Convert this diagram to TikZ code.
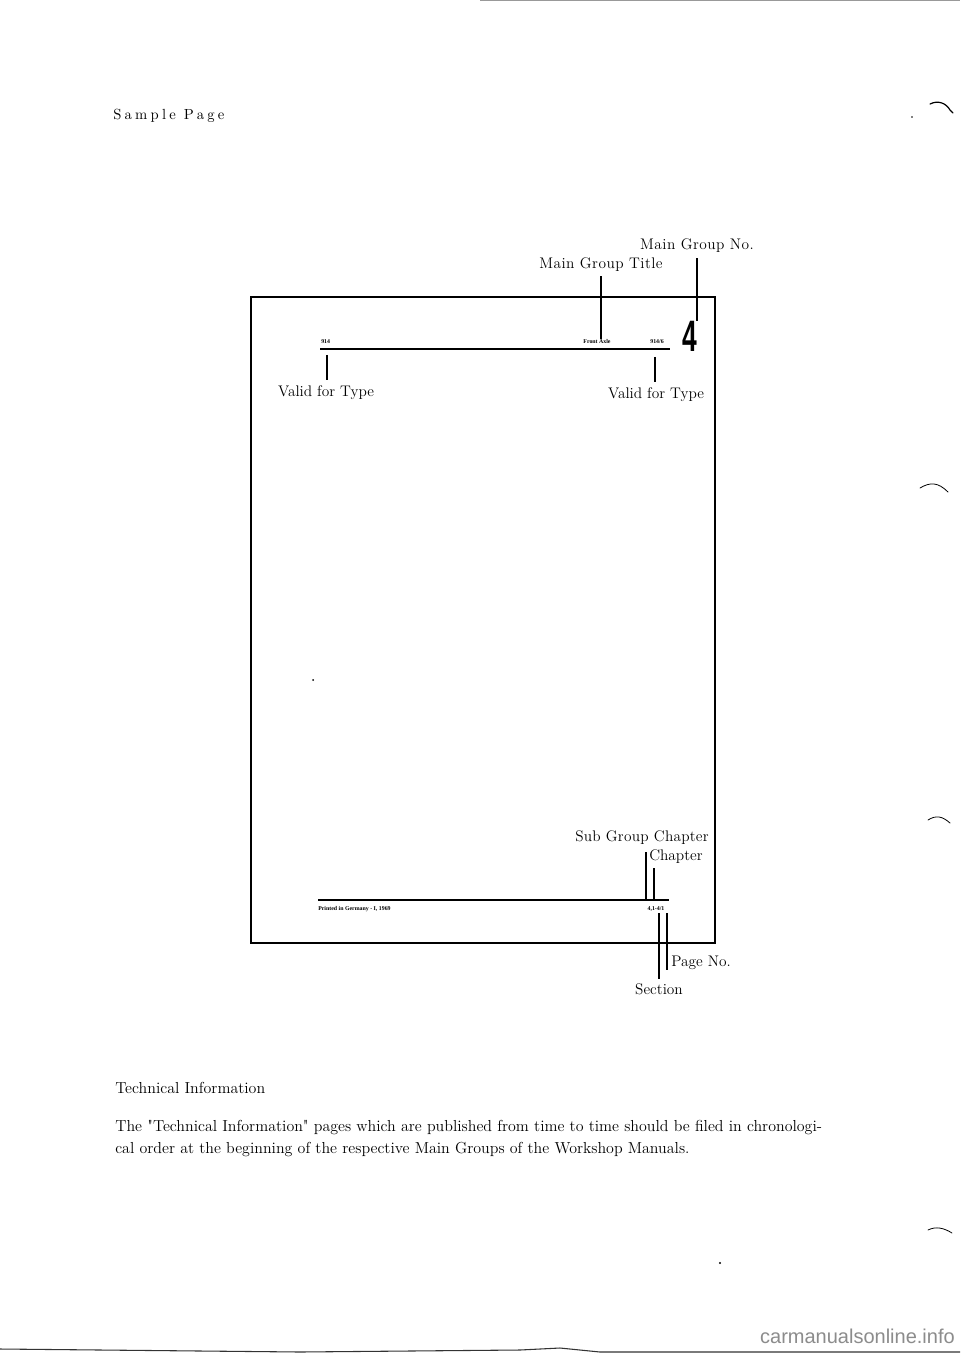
\documentclass[tikz,border=0pt]{standalone}
\usepackage{fontspec}
\setmainfont{Latin Modern Roman}
\newfontfamily\tinyfont{Liberation Serif}
\newfontfamily\numfont{Liberation Sans}
\newfontfamily\wmfont{Liberation Sans}
\begin{document}
\begin{tikzpicture}[x=0.75pt,y=-0.75pt,
  lbl/.style={inner sep=0pt,font=\fontsize{11.5}{12}\selectfont\addfontfeature{LetterSpace=3}},
  mlbl/.style={inner sep=0pt,font=\fontsize{11.5}{12}\selectfont},
  tiny/.style={inner sep=0pt,font=\tinyfont\bfseries\fontsize{4.4}{5}\selectfont},
  pointer/.style={line width=1.1pt},
  rule/.style={line width=1.3pt},
  body/.style={inner sep=0pt,anchor=west,font=\fontsize{11.95}{13}\selectfont},
  scan/.style={line width=0.9pt,line cap=round}]
\useasboundingbox (0,0) rectangle (960,1358);
\fill[white] (0,0) rectangle (960,1358);

% title
\node[inner sep=0pt,anchor=west,font=\fontsize{11}{12}\selectfont\addfontfeature{LetterSpace=22}] (sp) at (113,116) {Sample Page};

% page frame
\draw[line width=1.6pt] (251,297) rectangle (715,943);

% header
\draw[rule] (320,349) coordinate (hl) -- (670,349) coordinate (hr);
\node[tiny,anchor=south west] (t914) at (321,344) {914};
\node[tiny,anchor=south] (fa) at (597,344) {Front Axle};
\node[tiny,anchor=south] (t9146) at (657,344) {914/6};
\node[inner sep=0pt,anchor=south] (four) at (690,352) {\numfont\bfseries\scalebox{0.6}[1]{\fontsize{33}{33}\selectfont 4}};

\node[lbl] (mgt) at (601,265) {Main Group Title};
\node[lbl] (mgn) at (697,246) {Main Group No.};
\draw[pointer] (mgt.south) ++(0,4) coordinate (mgta) -- (mgta |- fa.north);
\draw[pointer] (mgn.south) ++(0,5) coordinate (mgna) -- (mgna |- four.north);

\node[mlbl] (vl) at (326,393) {Valid for Type};
\node[mlbl] (vr) at (656,395) {Valid for Type};
\coordinate (vla) at (327,355);
\coordinate (vra) at (655,357);
\draw[pointer] (vla) -- ([yshift=4pt]vla |- vl.north);
\draw[pointer] (vra) -- ([yshift=4pt]vra |- vr.north);

% footer
\draw[rule] (318,900) coordinate (fl) -- (669,900) coordinate (fr);
\node[tiny,anchor=north west] (pig) at (318,906) {Printed in Germany - I, 1969};
\node[tiny,anchor=north] (code) at (656,906) {4,1-4/1};

\node[lbl,font=\fontsize{11.5}{12}\selectfont\addfontfeature{LetterSpace=1.5}] (sgc) at (642,838) {Sub Group Chapter};
\node[mlbl,anchor=west] (chap) at (649,857) {Chapter};
\coordinate (sa) at (646,852);
\coordinate (sb) at (654,868);
\draw[pointer] (sa) -- (sa |- fl);
\draw[pointer] (sb) -- (sb |- fl);

\node[mlbl] (sec) at (659,989) {Section};
\node[mlbl,anchor=west] (pno) at (671,963) {Page No.};
\coordinate (ca) at (659,913);
\coordinate (cb) at (667,913);
\draw[pointer] (ca) -- ([yshift=3pt]ca |- sec.north);
\draw[pointer] (cb) -- (cb |- pno.south);

% bottom text
\node[body] (ti) at (115,1088) {Technical Information};
\node[body] (p1) at (115,1128) {The \textquotedbl Technical Information\textquotedbl{} pages which are published from time to time should be filed in chronologi-};
\node[body] (p2) at (115,1150) {cal order at the beginning of the respective Main Groups of the Workshop Manuals.};

% specks
\fill (313,680) circle (1);
\fill (720,1263) circle (1.2);

% scan artefacts at right edge
\draw[scan] (930,104) .. controls (938,100) and (946,103) .. (950,110) -- (953,113);
\fill (912,117) circle (0.8);
\draw[scan,line width=0.6pt] (920,488) .. controls (930,482) and (938,482) .. (948,492);
\draw[scan,line width=0.6pt] (928,820) .. controls (936,815) and (942,816) .. (950,823);
\draw[scan,line width=0.6pt] (928,1230) .. controls (936,1226) and (944,1228) .. (952,1233);

% bottom scanned edge
\draw[line width=0.8pt,black!80] (0,1349) -- (300,1352) -- (520,1350) -- (560,1348) -- (600,1352) -- (960,1352);
\draw[line width=0.4pt,black!40] (480,0.5) -- (960,0.5);
\node[inner sep=0pt,anchor=east,text=black!45,font=\wmfont\fontsize{15}{16}\selectfont] (wm) at (955,1336) {carmanualsonline.info};
\end{tikzpicture}
\end{document}
